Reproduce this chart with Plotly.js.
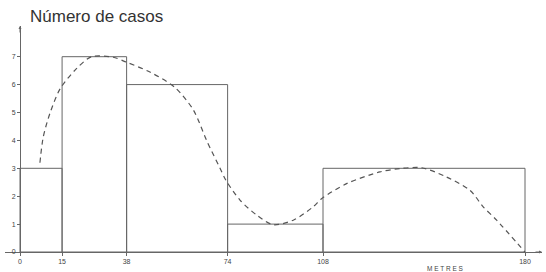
<!DOCTYPE html>
<html>
<head>
<meta charset="utf-8">
<script src="https://cdn.plot.ly/plotly-3.0.1.min.js"></script>
<style>html,body{margin:0;padding:0;background:#fff}#chart{width:546px;height:272px}</style>
</head>
<body>
<div id="chart"></div>
<script>
// Class edges (metres) and number of cases per class
const edges = [0, 15, 38, 74, 108, 180];
const counts = [3, 7, 6, 1, 3];
const xTickVals = [0, 15, 38, 74, 108, 180];
const yTickVals = [0, 1, 2, 3, 4, 5, 6, 7];
// Dashed fitted curve
const curveX = [7.1, 8.3, 10.7, 14.3, 20.2, 25.5, 33.2, 38, 46.3, 55.2, 61.8, 66.5, 71.3, 73.4, 78.4, 84.4, 90.2, 97.4, 104.5, 107.6, 116.4, 128.3, 135.4, 143.2, 152, 160.4, 165.1, 169.9, 180];
const curveY = [3.2, 4.13, 4.98, 5.85, 6.58, 7.0, 6.98, 6.8, 6.45, 5.9, 5.09, 4.0, 3.0, 2.57, 1.86, 1.32, 0.98, 1.14, 1.62, 1.92, 2.45, 2.87, 2.99, 3.02, 2.69, 2.21, 1.62, 1.14, 0];

const barX = counts.map((c, i) => edges[i]);
const barW = counts.map((c, i) => edges[i + 1] - edges[i]);

const font = {family: 'Liberation Sans, Arial, sans-serif', color: '#444', size: 7};

const data = [
  {type: 'bar', x: barX, y: counts, width: barW, offset: 0,
   marker: {color: 'rgba(0,0,0,0)', line: {color: '#666', width: 1}},
   hoverinfo: 'skip'},
  {type: 'scatter', mode: 'lines', x: curveX, y: curveY,
   line: {shape: 'spline', smoothing: 0.8, dash: '5px,4px', color: '#555', width: 1.2},
   hoverinfo: 'skip'}
];

const layout = {
  width: 546, height: 272,
  margin: {l: 5, r: 4, t: 26, b: 20},
  paper_bgcolor: '#fff', plot_bgcolor: '#fff',
  showlegend: false,
  xaxis: {range: [-5.35, 186.06], showgrid: false, zeroline: false,
          showline: true, linecolor: '#666', linewidth: 1,
          tickmode: 'array', tickvals: xTickVals, ticktext: xTickVals.map(String),
          ticks: 'outside', ticklen: 3, tickcolor: '#666', tickfont: font},
  yaxis: {range: [0, 8.1], showgrid: false, zeroline: false,
          anchor: 'free', position: 5.35 / 191.41,
          showline: true, linecolor: '#666', linewidth: 1,
          tickmode: 'array', tickvals: yTickVals, ticktext: yTickVals.map(String),
          ticks: 'outside', ticklen: 3, tickcolor: '#666', tickfont: font},
  annotations: [
    {x: 23 / 537, y: 1, xref: 'paper', yref: 'paper', xanchor: 'left', yanchor: 'middle', yshift: 10,
     showarrow: false, text: 'Número de casos',
     font: {family: 'Liberation Sans, Arial, sans-serif', size: 17, color: '#333'}},
    {x: 151.5, y: 0, xref: 'x', yref: 'y', yanchor: 'top', yshift: -11, showarrow: false,
     text: 'M E T R E S', font: {family: 'Liberation Sans, Arial, sans-serif', size: 6.5, color: '#444'}},
    {x: 186.06, y: 0, xref: 'x', yref: 'y', ax: -8, ay: 0, axref: 'pixel', ayref: 'pixel',
     text: '', showarrow: true, arrowhead: 2, arrowsize: 0.6, arrowwidth: 1, arrowcolor: '#666'},
    {x: 0, y: 8.1, xref: 'x', yref: 'y', ax: 0, ay: 8, axref: 'pixel', ayref: 'pixel',
     text: '', showarrow: true, arrowhead: 2, arrowsize: 0.6, arrowwidth: 1, arrowcolor: '#666'}
  ]
};

Plotly.newPlot('chart', data, layout, {staticPlot: true, displayModeBar: false});
</script>
</body>
</html>
